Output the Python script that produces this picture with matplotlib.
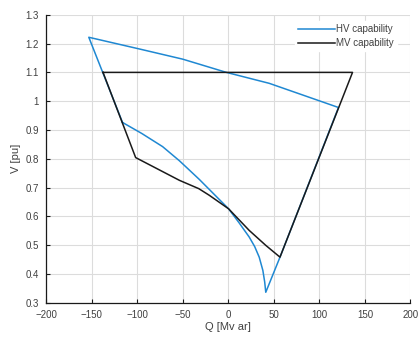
#!/usr/bin/env python3
"""Curvas de capacidad HV / MV (V vs Q)."""

import matplotlib

matplotlib.use("Agg")
import matplotlib.pyplot as plt
from matplotlib.ticker import FormatStrFormatter

plt.rcParams["font.family"] = ["Liberation Sans", "DejaVu Sans"]

# HV capability (contorno cerrado)
hv_q = [-116, -153, -97, -50, -2, 45, 121, 56.8, 41.2, 40, 38, 34, 29, 23, 12, 0.4,
        -21, -31.7, -53.6, -72, -95, -116]
hv_v = [0.926, 1.222, 1.181, 1.146, 1.100, 1.062, 0.978, 0.458, 0.336, 0.372, 0.412,
        0.458, 0.495, 0.528, 0.577, 0.626, 0.694, 0.728, 0.793, 0.842, 0.888, 0.926]

# MV capability (contorno cerrado)
mv_q = [-137.4, 136.4, 56.8, 41.2, 23, 0.4, -20.8, -32.3, -53.6, -101.6, -137.4]
mv_v = [1.100, 1.100, 0.458, 0.499, 0.551, 0.626, 0.673, 0.696, 0.725, 0.804, 1.100]

x_ticks = [-200, -150, -100, -50, 0, 50, 100, 150, 200]
y_ticks = [0.3, 0.4, 0.5, 0.6, 0.7, 0.8, 0.9, 1.0, 1.1, 1.2, 1.3]

blue = "#1f88d2"
dark = "#1a1a1a"
txt = "#404040"

fig = plt.figure(figsize=(4.18, 3.37), dpi=100)
ax = fig.add_axes([0.110, 0.102, 0.872, 0.854])

ax.plot(hv_q, hv_v, color=blue, lw=1.1, label="HV capability")
ax.plot(mv_q, mv_v, color=dark, lw=1.1, label="MV capability")

ax.set_xlim(-200, 200)
ax.set_ylim(0.3, 1.3)
ax.set_xticks(x_ticks)
ax.set_yticks(y_ticks)
ax.yaxis.set_major_formatter(FormatStrFormatter("%g"))
ax.grid(True, color="#dcdcdc", lw=0.8)
ax.set_axisbelow(True)

for side in ("top", "right"):
    ax.spines[side].set_visible(False)
for side in ("left", "bottom"):
    ax.spines[side].set_color(dark)
    ax.spines[side].set_linewidth(0.9)

ax.tick_params(direction="in", length=3, width=0.8, labelsize=7, labelcolor=txt,
               color=dark, pad=5)
ax.set_xlabel("Q [Mv ar]", fontsize=8, color=txt, labelpad=2)
ax.set_ylabel("V [pu]", fontsize=8, color=txt, labelpad=3)

leg = ax.legend(loc="upper right", bbox_to_anchor=(0.975, 0.995), fontsize=7,
                frameon=True, facecolor="white", edgecolor="white", framealpha=1,
                handlelength=3.8, handletextpad=0.1, labelspacing=0.45,
                borderpad=0.3, fancybox=False)
for t in leg.get_texts():
    t.set_color(txt)

fig.savefig("out.png", dpi=100)
